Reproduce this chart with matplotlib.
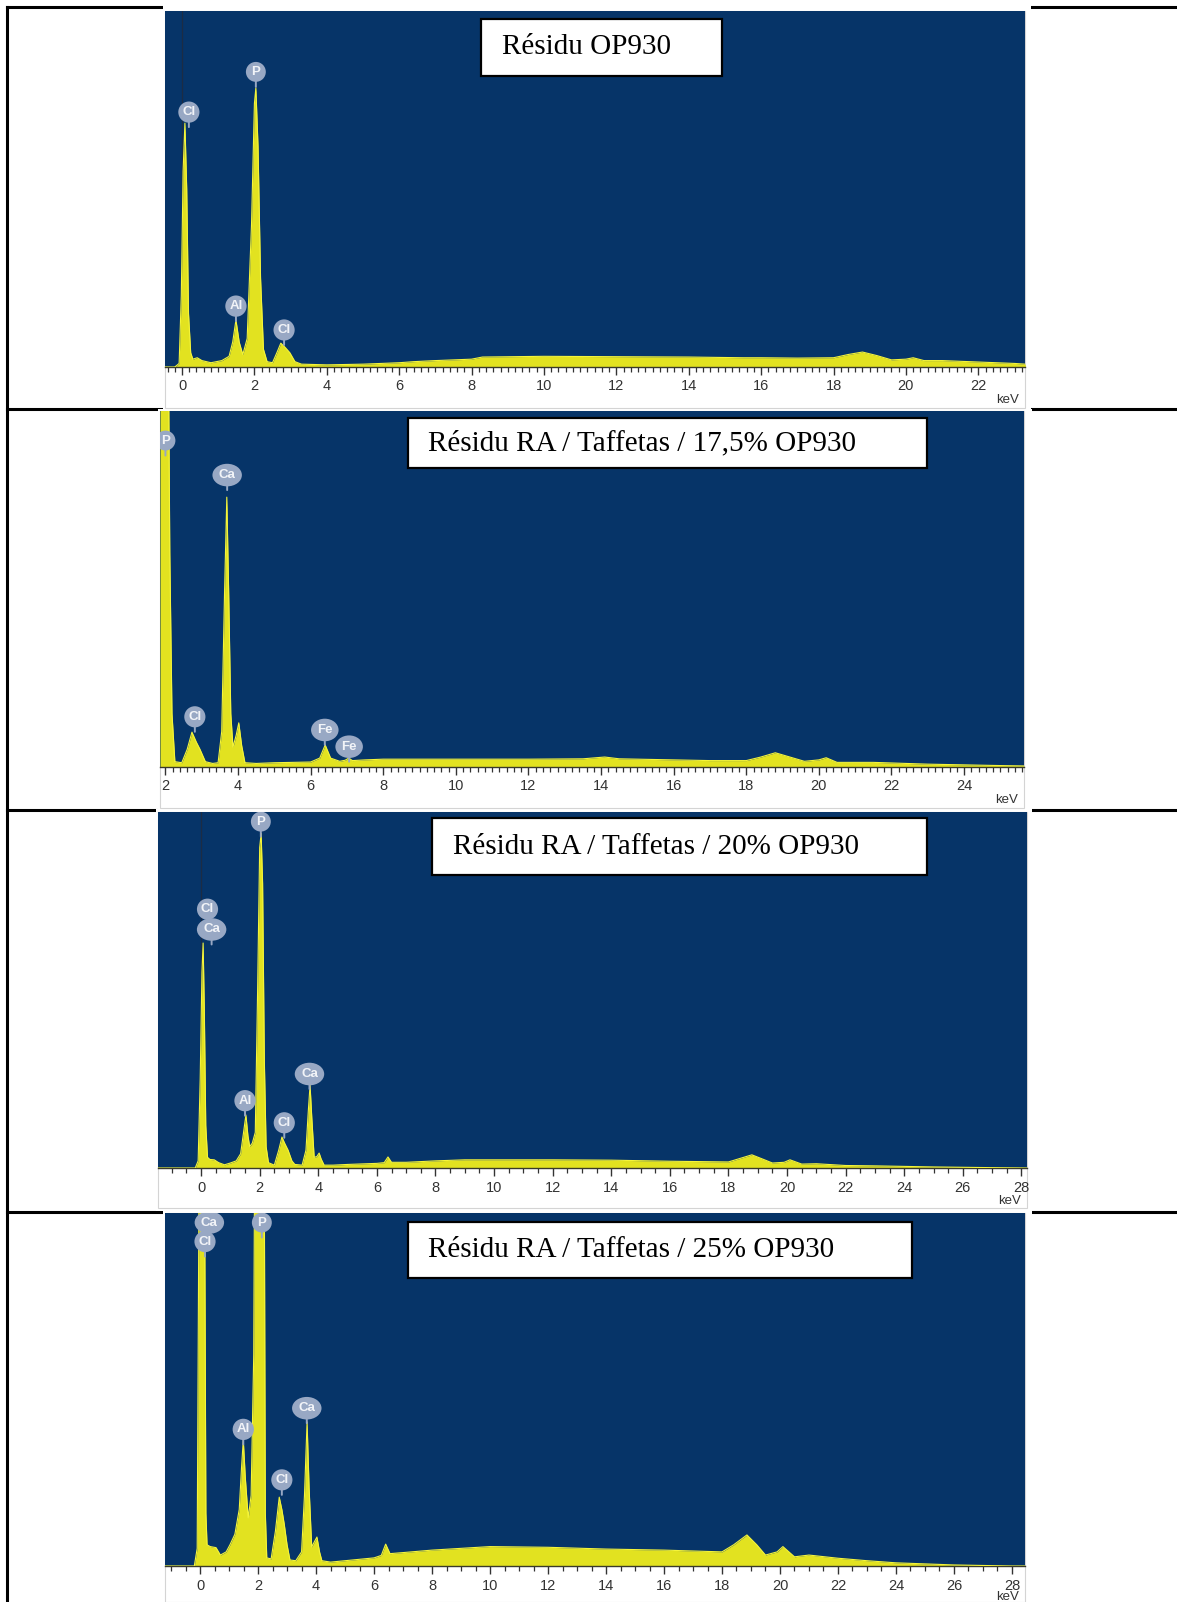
import matplotlib
matplotlib.use("Agg")
import matplotlib.pyplot as plt
from matplotlib.patches import Rectangle
from matplotlib.lines import Line2D
from matplotlib.ticker import MultipleLocator

W, H = 1177, 1602

titles = ["Résidu OP930",
          "Résidu RA / Taffetas / 17,5% OP930",
          "Résidu RA / Taffetas / 20% OP930",
          "Résidu RA / Taffetas / 25% OP930"]

# spectra: energy (keV) and intensity (% of the panel height)
energy_1 = [-0.47, -0.2, -0.08, -0.02, 0.03, 0.08, 0.13, 0.18, 0.24, 0.3, 0.42, 0.55, 0.8, 1.1, 1.3, 1.4,
            1.49, 1.58, 1.68, 1.8, 1.92, 2.0, 2.04, 2.1, 2.17, 2.25, 2.35, 2.5, 2.62, 2.73, 2.85, 2.98,
            3.12, 3.3, 4.0, 5.0, 6.0, 6.4, 7.0, 8.0, 8.3, 10, 12, 14, 15.5, 16, 17, 18, 18.4, 18.8,
            19.2, 19.6, 20.0, 20.2, 20.5, 21, 22, 23, 23.3]
counts_1 = [0, 0, 1, 20, 55, 68.5, 50, 15, 4, 2.2, 2.6, 1.8, 1.2, 1.8, 3, 7,
            13.2, 7, 3.5, 8, 40, 74, 78.4, 62, 25, 5, 1.5, 1.2, 4, 6.7, 5.5, 4,
            1.5, 0.8, 0.6, 0.8, 1.2, 1.5, 1.8, 2.2, 2.8, 3.0, 2.9, 2.8, 2.6, 2.6, 2.5, 2.6, 3.5, 4.2,
            3.2, 2.0, 2.2, 2.6, 1.8, 1.8, 1.4, 1.0, 0.8]

energy_2 = [1.85, 2.0, 2.08, 2.12, 2.18, 2.26, 2.45, 2.6, 2.73, 2.85, 2.95, 3.1, 3.3, 3.45, 3.55, 3.63,
            3.69, 3.74, 3.8, 3.86, 3.95, 4.02, 4.1, 4.19, 4.5, 5.0, 6.0, 6.25, 6.4, 6.55, 6.8, 6.95,
            7.05, 7.15, 7.5, 8, 10, 12, 13.5, 14.1, 14.5, 16, 17, 18, 18.4, 18.8, 19.2, 19.6, 20.0,
            20.2, 20.5, 21.5, 23, 25, 25.65]
counts_2 = [130, 200, 120, 60, 15, 1.5, 1.2, 5, 9.8, 7, 5, 1.5, 1.0, 1.2, 10, 50,
            75.8, 50, 15, 5.6, 9, 12.4, 6, 1.2, 1.0, 1.2, 1.4, 2.5, 6.2, 2.5, 1.6, 1.9,
            2.5, 1.8, 2.0, 2.2, 2.2, 2.2, 2.3, 2.8, 2.3, 2.0, 1.8, 1.8, 2.8, 4.0, 2.8, 1.6, 2.0,
            2.6, 1.3, 1.3, 0.8, 0.4, 0.3]

energy_3 = [-1.47, -0.2, -0.1, -0.03, 0.03, 0.07, 0.11, 0.16, 0.22, 0.3, 0.45, 0.6, 0.8, 1.0, 1.2, 1.35,
            1.45, 1.53, 1.6, 1.66, 1.75, 1.85, 1.93, 2.0, 2.05, 2.1, 2.16, 2.22, 2.3, 2.5, 2.65, 2.76,
            2.85, 2.97, 3.1, 3.2, 3.45, 3.58, 3.66, 3.72, 3.78, 3.86, 3.95, 4.03, 4.1, 4.2, 4.5, 5.0,
            6.0, 6.25, 6.38, 6.5, 7.0, 8, 9, 12, 14, 16, 18, 18.4, 18.8, 19.2, 19.5, 19.9, 20.1,
            20.5, 21, 22, 23, 25, 27, 28.19]
counts_3 = [0, 0, 2, 25, 55, 63.2, 45, 12, 3, 2.4, 2.3, 1.5, 0.9, 1.4, 2.0, 4,
            10, 14.9, 9, 6, 7, 10, 50, 90, 94, 80, 30, 6, 1.5, 0.8, 5, 8.7,
            7, 5, 2, 1, 0.8, 5, 16, 23.3, 14, 3, 3.2, 4.2, 2.5, 0.8, 0.8, 1.0,
            1.3, 1.5, 3.1, 1.6, 1.6, 2.0, 2.3, 2.3, 2.2, 1.9, 1.7, 2.7, 3.7, 2.4, 1.4, 1.6, 2.3,
            1.1, 1.2, 0.7, 0.6, 0.3, 0.1, 0]

energy_4 = [-1.21, -0.2, -0.1, -0.03, 0.07, 0.15, 0.2, 0.24, 0.35, 0.55, 0.7, 0.9, 1.03, 1.2, 1.35, 1.43,
            1.49, 1.56, 1.66, 1.76, 1.85, 1.9, 2.05, 2.2, 2.25, 2.3, 2.45, 2.6, 2.73, 2.82, 2.9, 3.0,
            3.1, 3.3, 3.5, 3.6, 3.69, 3.76, 3.85, 3.95, 4.03, 4.12, 4.2, 4.5, 5, 6, 6.25, 6.4, 6.55,
            7, 8, 10, 12, 14, 16, 18, 18.4, 18.86, 19.2, 19.5, 19.9, 20.1, 20.5, 21, 22, 23, 24, 26,
            28, 28.45]
counts_4 = [0, 0, 5, 120, 250, 120, 15, 6, 5.5, 5.2, 3.1, 4, 6, 9, 16, 28,
            35.7, 25, 13.6, 20, 60, 150, 250, 150, 15, 2.3, 2, 10, 19.5, 16, 12, 6,
            1.7, 1.5, 4, 20, 40.8, 22, 5.4, 7, 8.2, 4, 1.5, 1.1, 1.5, 2.3, 3, 6.2, 3.5,
            3.8, 4.5, 5.5, 5.3, 4.8, 4.5, 4.0, 6, 8.8, 6, 3.1, 4, 5.5, 2.6, 3.1, 2.2, 1.5, 0.9, 0.3,
            0, 0]

# element markers: name, energy, height of the bubble
labels_1 = ["Cl", "P", "Al", "Cl"]
label_e_1 = [0.19, 2.04, 1.49, 2.82]
label_i_1 = [71.6, 82.9, 17.1, 10.4]

labels_2 = ["P", "Ca", "Cl", "Fe", "Fe"]
label_e_2 = [2.0, 3.70, 2.81, 6.39, 7.06]
label_i_2 = [91.7, 82.0, 14.1, 10.4, 5.7]

labels_3 = ["P", "Cl", "Ca", "Al", "Cl", "Ca"]
label_e_3 = [2.04, 0.22, 0.36, 1.50, 2.84, 3.70]
label_i_3 = [97.3, 72.7, 67.0, 18.9, 12.7, 26.4]

labels_4 = ["Ca", "Cl", "P", "Al", "Cl", "Ca"]
label_e_4 = [0.32, 0.17, 2.13, 1.49, 2.82, 3.68]
label_i_4 = [97.3, 91.9, 97.3, 38.7, 24.4, 44.7]

energies = [energy_1, energy_2, energy_3, energy_4]
counts = [counts_1, counts_2, counts_3, counts_4]
labels = [labels_1, labels_2, labels_3, labels_4]
label_e = [label_e_1, label_e_2, label_e_3, label_e_4]
label_i = [label_i_1, label_i_2, label_i_3, label_i_4]

xlims = [(-0.47, 23.29), (1.85, 25.65), (-1.47, 28.19), (-1.21, 28.45)]
minor_steps = [0.2, 0.2, 0.5, 0.5]
zero_line = [True, False, True, False]

# layout in pixels (x0, y0, x1, y1), y from the top
blue_boxes = [(165, 11, 1025, 367), (160, 411, 1024, 767), (158, 812, 1027, 1168), (165, 1213, 1025, 1566)]
image_boxes = [(165, 11, 1025, 408), (160, 411, 1024, 808), (158, 812, 1027, 1208), (165, 1213, 1025, 1602)]
mask_boxes = [(163, 5, 1031, 410), (158, 409, 1032, 810), (156, 809, 1032, 1211), (163, 1210, 1032, 1602)]
title_boxes = [(481, 19, 722, 76), (408, 418, 927, 468), (432, 818, 927, 875), (408, 1222, 912, 1278)]
title_x = [502, 428, 453, 428]
kev_offset = [(-6, -33), (-6, -33), (-6, -33), (-6, -31)]
row_lines = [7, 409, 810, 1212]

BLUE = "#063468"
FILL = "#e2e220"
EDGE = "#f4f43a"
BUBBLE = "#98a8c4"


def rect(box):
    x0, y0, x1, y1 = box
    return [x0 / W, 1 - y1 / H, (x1 - x0) / W, (y1 - y0) / H]


fig = plt.figure(figsize=(W / 100, H / 100), dpi=100)
fig.patch.set_facecolor("white")

# table grid
for y in row_lines:
    fig.add_artist(Line2D([7 / W, 1], [1 - y / H, 1 - y / H], transform=fig.transFigure,
                          color="black", lw=2.2, zorder=1))
fig.add_artist(Line2D([7 / W, 7 / W], [1 - 7 / H, 0], transform=fig.transFigure,
                      color="black", lw=2.2, zorder=1))

for k in range(4):
    r = rect(mask_boxes[k])
    fig.add_artist(Rectangle((r[0], r[1]), r[2], r[3], transform=fig.transFigure,
                             fc="white", ec="none", zorder=1.5))
    r = rect(image_boxes[k])
    fig.add_artist(Rectangle((r[0], r[1]), r[2], r[3], transform=fig.transFigure,
                             fc="white", ec="#d4d4d4", lw=0.8, zorder=1.6))

    ax = fig.add_axes(rect(blue_boxes[k]))
    ax.set_zorder(2)
    ax.set_facecolor(BLUE)
    ax.set_xlim(*xlims[k])
    ax.set_ylim(0, 100)
    for side in ["top", "left", "right"]:
        ax.spines[side].set_visible(False)
    ax.spines["bottom"].set_color("#3a3a2a")
    ax.spines["bottom"].set_linewidth(1.0)
    ax.set_yticks([])
    ax.xaxis.set_major_locator(MultipleLocator(2))
    ax.xaxis.set_minor_locator(MultipleLocator(minor_steps[k]))
    ax.tick_params(axis="x", which="major", direction="out", length=6, width=1.0,
                   color="#333333", labelsize=10.5, labelcolor="#333333", pad=3)
    ax.tick_params(axis="x", which="minor", direction="out", length=3.5, width=0.9,
                   color="#333333")
    for t in ax.get_xticklabels():
        t.set_family("Liberation Sans")

    if zero_line[k]:
        ax.axvline(0, color="#1c2c44", lw=0.9, zorder=1)

    ax.fill_between(energies[k], counts[k], 0, color=FILL, lw=0, zorder=2)
    ax.plot(energies[k], counts[k], color=EDGE, lw=0.8, zorder=3)

    for name, e, i in zip(labels[k], label_e[k], label_i[k]):
        ax.annotate("", xy=(e, i), xycoords="data", xytext=(0, -15), textcoords="offset pixels",
                    arrowprops=dict(arrowstyle="-", color=BUBBLE, lw=1.4, shrinkA=0, shrinkB=0),
                    zorder=4)
        style = "ellipse,pad=0.15" if name in ("Ca", "Fe") else "circle,pad=0.3"
        ax.text(e, i, name, ha="center", va="center", fontsize=9.5, color="#f2f4f8",
                fontweight="bold", family="Liberation Sans", zorder=5, clip_on=True,
                bbox=dict(boxstyle=style, fc=BUBBLE, ec="none"))

    ax.annotate("keV", xy=(1, 0), xycoords="axes fraction", xytext=kev_offset[k],
                textcoords="offset pixels", ha="right", va="center", fontsize=9.5,
                color="#333333", family="Liberation Sans", annotation_clip=False)

    # title box
    r = rect(title_boxes[k])
    fig.add_artist(Rectangle((r[0], r[1]), r[2], r[3], transform=fig.transFigure,
                             fc="white", ec="black", lw=1.6, zorder=3))
    yc = (title_boxes[k][1] + title_boxes[k][3]) / 2
    fig.text(title_x[k] / W, 1 - yc / H, titles[k], ha="left", va="center", fontsize=21,
             family="Liberation Serif", color="black", zorder=4)

fig.savefig("out.png", dpi=100)
